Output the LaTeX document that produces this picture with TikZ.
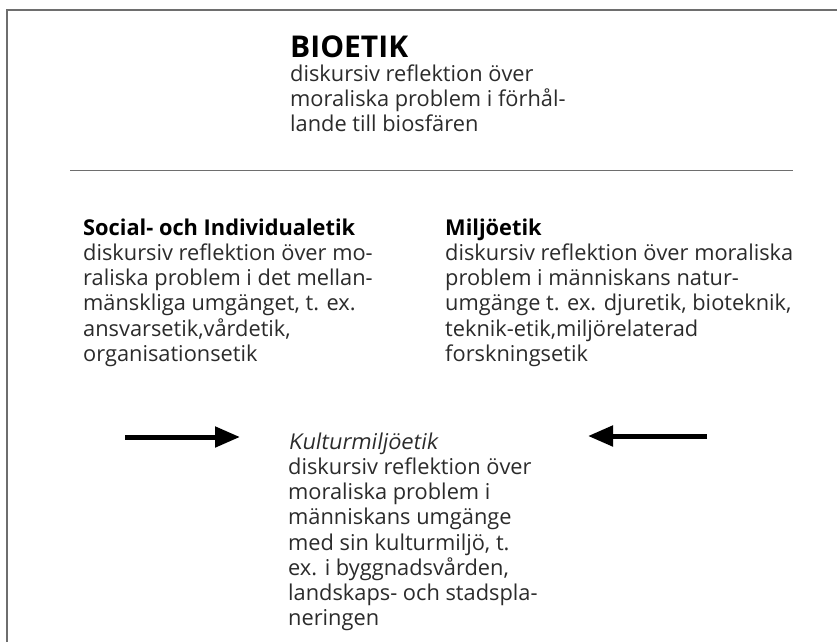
\documentclass[tikz,border=0pt]{standalone}
\usepackage{fontspec}
\setmainfont{Open Sans}
\newfontfamily\slantfont{Open Sans}[FakeSlant=0.18]
\usetikzlibrary{arrows.meta}
\definecolor{framegray}{HTML}{6E6E6E}
\definecolor{inkgray}{HTML}{2B2B2B}
\tikzset{
  title/.style={anchor=base west, inner sep=0pt, font=\bfseries\fontsize{30}{32}\selectfont},
  textblock/.style={anchor=north west, inner sep=0pt, align=left, text=inkgray, font=\fontsize{21.8}{25.2}\selectfont},
  bigarrow/.style={line width=5pt, -{Triangle[length=25pt,width=20pt]}}
}
\newcommand{\blockhead}[1]{\textcolor{black}{\bfseries #1}}
\begin{document}
\begin{tikzpicture}[x=1pt, y=-1pt]
    \useasboundingbox (0, 0) rectangle (837, 642);
    \fill[white] (0, 0) rectangle (837, 642);
    \draw[framegray, line width=1.5pt] (7, 642) -- (7, 10) -- (837, 10);
    \draw[framegray, line width=1pt] (70, 170) -- (793, 170);

    \node[title] (bioetik) at (290, 57) {BIOETIK};
    \node[textblock] (biotext) at (290, 64.5) {diskursiv reflektion över\\moraliska problem i förhål-\\lande till biosfären};

    \node[textblock] (social) at (83, 218.5) {\blockhead{Social- och Individualetik}\\diskursiv reflektion över mo-\\raliska problem i det mellan-\\mänskliga umgänget, t. ex.\\ansvarsetik,vårdetik,\\organisationsetik};
    \node[textblock] (miljo) at (445, 218.5) {\blockhead{Miljöetik}\\diskursiv reflektion över moraliska\\problem i människans natur-\\umgänge t. ex. djuretik, bioteknik,\\teknik-etik,miljörelaterad\\forskningsetik};

    \node[textblock] (kultur) at (288, 432.5) {{\slantfont Kulturmiljöetik}\\diskursiv reflektion över\\moraliska problem i\\människans umgänge\\med sin kulturmiljö, t.\\ex. i byggnadsvården,\\landskaps- och stadspla-\\neringen};

    \coordinate (leftstart) at (125, 437);
    \coordinate (leftend) at (240, 437);
    \coordinate (rightstart) at (707, 436);
    \coordinate (rightend) at (588, 436);
    \draw[bigarrow] (leftstart) -- (leftend);
    \draw[bigarrow] (rightstart) -- (rightend);
\end{tikzpicture}
\end{document}
